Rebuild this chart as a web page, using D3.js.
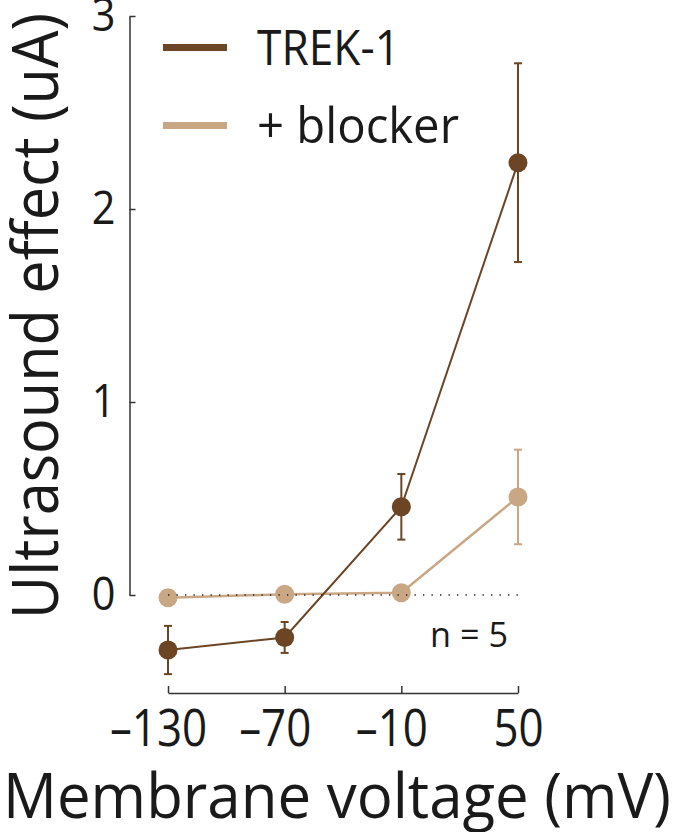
<!DOCTYPE html>
<html>
<head>
<meta charset="utf-8">
<script src="https://cdn.jsdelivr.net/npm/d3@7"></script>
<style>
  body { margin: 0; background: #fff; }
  text { font-family: "Open Sans", sans-serif; fill: #1a1a1a; }
</style>
</head>
<body>
<div id="chart"></div>
<script>
// values
var voltages = [-130, -70, -10, 50];
var xTicks = [-130, -70, -10, 50];
var yTicks = [0, 1, 2, 3];
var trek = [-0.285, -0.22, 0.457, 2.24];
var trekErr = [0.125, 0.08, 0.17, 0.515];
var blocker = [-0.014, 0.004, 0.012, 0.508];
var blockerErr = [0.02, 0.02, 0.02, 0.245];
var seriesNames = ["TREK-1", "+ blocker"];
var seriesColors = ["#6b4524", "#c9a684"];

var width = 675,
    height = 832;

var x = d3.scaleLinear().domain([-130, 50]).range([168, 518]);
var y = d3.scaleLinear().domain([0, 3]).range([595, 16]);

var svg = d3.select("#chart").append("svg")
    .attr("width", width)
    .attr("height", height);

// squeeze Open Sans a bit so widths look like the narrower original face
function condense(sel, k) {
    sel.each(function() {
        var w = this.getComputedTextLength();
        d3.select(this).attr("textLength", w * k).attr("lengthAdjust", "spacingAndGlyphs");
    });
}

// y axis, ticks pointing inwards
var yAxis = svg.append("g")
    .attr("transform", "translate(129.5,0)")
    .call(d3.axisLeft(y).tickValues(yTicks).tickSizeInner(-6).tickSizeOuter(0).tickPadding(14).tickFormat(d3.format("d")));
yAxis.selectAll("path, line").attr("stroke", "#333").attr("stroke-width", 1.5);
yAxis.selectAll("text").attr("font-size", 46).attr("font-family", "Open Sans").attr("fill", "#1a1a1a");
condense(yAxis.selectAll("text"), 0.9);

// x axis
var xAxis = svg.append("g")
    .attr("transform", "translate(0,693)")
    .call(d3.axisBottom(x).tickValues(xTicks).tickSizeInner(-7).tickSizeOuter(0).tickPadding(17)
        .tickFormat(function(d){ return d < 0 ? "\u2013" + Math.abs(d) : d; }));
xAxis.selectAll("path, line").attr("stroke", "#333").attr("stroke-width", 1.5);
xAxis.selectAll("text")
    .attr("font-size", 51).attr("font-family", "Open Sans").attr("fill", "#1a1a1a")
    .attr("dx", function(d){ return d < 0 ? -10 : 0; });
condense(xAxis.selectAll("text"), 0.86);

// axis titles
svg.append("text")
    .attr("transform", "translate(58,316) rotate(-90)")
    .attr("text-anchor", "middle")
    .attr("font-size", 64)
    .attr("textLength", 606)
    .attr("lengthAdjust", "spacingAndGlyphs")
    .text("Ultrasound effect (uA)");

svg.append("text")
    .attr("x", 337)
    .attr("y", 818)
    .attr("text-anchor", "middle")
    .attr("font-size", 63)
    .attr("textLength", 668)
    .attr("lengthAdjust", "spacingAndGlyphs")
    .text("Membrane voltage (mV)");

// one series: line, error bars, markers
function drawSeries(vals, errs, color, lw) {
    var pts = voltages.map(function(v, i){ return {v: v, m: vals[i], e: errs[i]}; });
    var g = svg.append("g");

    g.append("path")
        .datum(pts)
        .attr("fill", "none")
        .attr("stroke", color)
        .attr("stroke-width", lw)
        .attr("d", d3.line().x(function(d){ return x(d.v); }).y(function(d){ return y(d.m); }));

    var eb = g.selectAll("g.err").data(pts).enter().append("g").attr("class", "err")
        .attr("stroke", color).attr("stroke-width", 2);
    eb.append("line")
        .attr("x1", function(d){ return x(d.v); }).attr("x2", function(d){ return x(d.v); })
        .attr("y1", function(d){ return y(d.m - d.e); }).attr("y2", function(d){ return y(d.m + d.e); });
    [1, -1].forEach(function(s){
        eb.append("line")
            .attr("x1", function(d){ return x(d.v) - 4; }).attr("x2", function(d){ return x(d.v) + 4; })
            .attr("y1", function(d){ return y(d.m + s * d.e); }).attr("y2", function(d){ return y(d.m + s * d.e); });
    });

    g.selectAll("circle").data(pts).enter().append("circle")
        .attr("cx", function(d){ return x(d.v); })
        .attr("cy", function(d){ return y(d.m); })
        .attr("r", 9.5)
        .attr("fill", color);
}

drawSeries(blocker, blockerErr, seriesColors[1], 2.5);
drawSeries(trek, trekErr, seriesColors[0], 2);

// dotted zero line on top
svg.append("line")
    .attr("x1", x(-130)).attr("x2", x(50))
    .attr("y1", y(0)).attr("y2", y(0))
    .attr("stroke", "#222")
    .attr("stroke-width", 1.3)
    .attr("stroke-dasharray", "1.3,7.2");

// legend
var legend = svg.selectAll("g.legend").data(seriesNames).enter().append("g")
    .attr("class", "legend")
    .attr("transform", function(d, i){ return "translate(0," + (47.5 + i * 78) + ")"; });
legend.append("line")
    .attr("x1", 163).attr("x2", 227)
    .attr("stroke", function(d, i){ return seriesColors[i]; })
    .attr("stroke-width", 7);
legend.append("text")
    .attr("x", 257)
    .attr("y", 17.5)
    .attr("font-size", 49)
    .attr("textLength", function(d, i){ return i == 0 ? 143 : 202; })
    .attr("lengthAdjust", "spacingAndGlyphs")
    .text(function(d){ return d; });

svg.append("text")
    .attr("x", 430)
    .attr("y", 647)
    .attr("font-size", 35)
    .attr("textLength", 78)
    .attr("lengthAdjust", "spacingAndGlyphs")
    .text("n = 5");
</script>
</body>
</html>
